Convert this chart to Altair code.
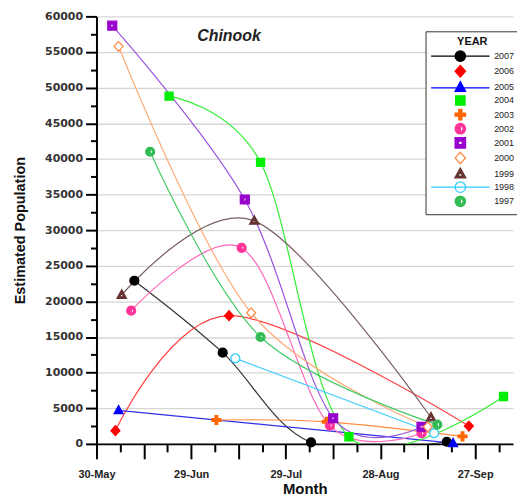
import datetime as dt
import altair as alt
import pandas as pd

# ---------------- data ----------------
years = ["2007", "2006", "2005", "2004", "2003", "2002", "2001", "2000", "1999", "1998", "1997"]

dates_2007 = ["2001-06-11", "2001-07-09", "2001-08-06", "2001-09-18"]
pop_2007 = [22900, 12800, 200, 300]
dates_2006 = ["2001-06-05", "2001-07-11", "2001-09-25"]
pop_2006 = [1850, 18000, 2500]
dates_2005 = ["2001-06-06", "2001-09-20"]
pop_2005 = [4700, 100]
dates_2004 = ["2001-06-22", "2001-07-21", "2001-08-18", "2001-10-06"]
pop_2004 = [48800, 39500, 1000, 6650]
dates_2003 = ["2001-07-07", "2001-08-11", "2001-09-23"]
pop_2003 = [3350, 3100, 1050]
dates_2002 = ["2001-06-10", "2001-07-15", "2001-08-12", "2001-09-10"]
pop_2002 = [18700, 27500, 2550, 1500]
dates_2001 = ["2001-06-04", "2001-07-16", "2001-08-13", "2001-09-10"]
pop_2001 = [58700, 34300, 3600, 2400]
dates_2000 = ["2001-06-06", "2001-07-18", "2001-09-12"]
pop_2000 = [55800, 18400, 2400]
dates_1999 = ["2001-06-07", "2001-07-19", "2001-09-13"]
pop_1999 = [20900, 31300, 3700]
dates_1998 = ["2001-07-13", "2001-09-14"]
pop_1998 = [12000, 1500]
dates_1997 = ["2001-06-16", "2001-07-21", "2001-09-15"]
pop_1997 = [41000, 15000, 2700]

line_colors = ["#333333", "#ff4040", "#3030e8", "#33ee33", "#ff8c40", "#ff66bb",
               "#9955dd", "#ffaa77", "#7a5f5f", "#44ccff", "#44cc66"]
fill_colors = ["#000000", "#ff0000", "#0000ff", "#00ee00", "#ff6600", "#ff3399",
               "#9900cc", "#ffffff", "#663333", "#ffffff", "#33bb55"]
stroke_colors = ["#000000", "#ff0000", "#0000ff", "#00ee00", "#ff6600", "#ff3399",
                 "#9900cc", "#ff8c4c", "#663333", "#33ccff", "#33bb55"]

title_text = "Chinook"
title_date = "2001-07-11"
title_value = 57200

# ---------------- symbol shapes ----------------
CIRCLE = "M1,0A1,1,0,1,1,-1,0A1,1,0,1,1,1,0Z"
DIAMOND = "M0,-1.1L1,0L0,1.1L-1,0Z"
TRIANGLE = "M0,-1.1L1,0.75L-1,0.75Z"
SQUARE = "M-0.9,-0.9L0.9,-0.9L0.9,0.9L-0.9,0.9Z"
CROSS = ("M-1,-0.3L-0.3,-0.3L-0.3,-1L0.3,-1L0.3,-0.3L1,-0.3L1,0.3L0.3,0.3"
         "L0.3,1L-0.3,1L-0.3,0.3L-1,0.3Z")
HALF = "M0,-1A1,1,0,0,0,0,1ZM0,-1A1,1,0,0,1,0,1L0,0.55A0.55,0.55,0,0,0,0,-0.55Z"
HOLLOW_SQ = "M-1,-1L1,-1L1,1L-1,1ZM-0.35,-0.35L-0.35,0.35L0.35,0.35L0.35,-0.35Z"
HOLLOW_TRI = "M0,-1.15L1.05,0.75L-1.05,0.75ZM0,-0.4L-0.5,0.42L0.5,0.42Z"
LINE = "M-5.6,0L5.6,0"

point_shapes = [CIRCLE, DIAMOND, TRIANGLE, SQUARE, CROSS, HALF, HOLLOW_SQ,
                DIAMOND, HOLLOW_TRI, CIRCLE, HALF]
legend_shapes = [LINE + CIRCLE, DIAMOND, "M-5.6,0.1L5.6,0.1" + TRIANGLE, SQUARE, CROSS,
                 HALF, HOLLOW_SQ, DIAMOND, HOLLOW_TRI, LINE + CIRCLE, HALF]

series = {
    "2007": (dates_2007, pop_2007), "2006": (dates_2006, pop_2006),
    "2005": (dates_2005, pop_2005), "2004": (dates_2004, pop_2004),
    "2003": (dates_2003, pop_2003), "2002": (dates_2002, pop_2002),
    "2001": (dates_2001, pop_2001), "2000": (dates_2000, pop_2000),
    "1999": (dates_1999, pop_1999), "1998": (dates_1998, pop_1998),
    "1997": (dates_1997, pop_1997),
}
rows = [{"year": y, "date": d, "pop": p}
        for y, (ds, ps) in series.items() for d, p in zip(ds, ps)]
df = pd.DataFrame(rows)

# ---------------- axis helpers ----------------
start = dt.datetime(2001, 5, 30, tzinfo=dt.timezone.utc)


def ms(days):
    return int((start + dt.timedelta(days=days)).timestamp() * 1000)


x0 = ms(0)
x_end = ms(132)
x_major = [ms(15 * i) for i in range(9)]
x_minor = [ms(7.5 + 15 * i) for i in range(9)]
y_major = list(range(0, 60001, 5000))
y_minor = list(range(2500, 60000, 5000))

xscale = alt.Scale(type="utc", domain=[x0, x_end])
yscale = alt.Scale(domain=[0, 60000], nice=False)

label_expr = ("(round((datum.value - %d) / 86400000) %% 30 == 0) ? "
              "utcFormat(datum.value, '%%d-%%b') : ''" % x0)

x_axis_main = alt.Axis(orient="bottom", values=x_major, labelExpr=label_expr,
                       title="Month", titleFontSize=15, titleFontWeight="bold",
                       titlePadding=2, titleColor="#111",
                       labelFontSize=11, labelFontWeight="bold", labelColor="#222",
                       labelFlush=False, labelOverlap=False, labelPadding=10,
                       tickSize=15, tickWidth=2, tickColor="#000",
                       domainColor="#000", domainWidth=2, grid=False)
x_axis_minor = alt.Axis(orient="bottom", values=x_minor, labels=False, title=None,
                        tickSize=8, tickWidth=2, tickColor="#000", domain=False, grid=False)
y_axis_main = alt.Axis(orient="left", values=y_major, format="d",
                       title="Estimated Population", titleFontSize=14.5,
                       titleFontWeight="bold", titleColor="#111", titlePadding=17,
                       labelFont="DejaVu Sans", labelFontSize=11, labelFontWeight="bold",
                       labelColor="#333", labelPadding=3, tickSize=11, tickWidth=2,
                       tickColor="#000", domainColor="#000", domainWidth=2,
                       grid=True, gridColor="#d6d6d6", gridWidth=1.3)
y_axis_minor = alt.Axis(orient="left", values=y_minor, labels=False, title=None,
                        tickSize=6, tickWidth=2, tickColor="#000", domain=False, grid=False)

base = alt.Chart(df)

lines = base.mark_line(interpolate="cardinal", strokeWidth=1.2, clip=True).encode(
    x=alt.X("date:T", scale=xscale, axis=x_axis_main),
    y=alt.Y("pop:Q", scale=yscale, axis=y_axis_main),
    stroke=alt.Stroke("year:N", scale=alt.Scale(domain=years, range=line_colors), legend=None),
    detail="year:N",
)

points = base.mark_point(size=80, opacity=1, strokeWidth=1.3, filled=True).encode(
    x=alt.X("date:T", scale=xscale, axis=x_axis_minor),
    y=alt.Y("pop:Q", scale=yscale, axis=y_axis_minor),
    shape=alt.Shape("year:N", scale=alt.Scale(domain=years, range=point_shapes), legend=None),
    fill=alt.Fill("year:N", scale=alt.Scale(domain=years, range=fill_colors), legend=None),
    stroke=alt.Stroke("year:N", scale=alt.Scale(domain=years, range=stroke_colors), legend=None),
)

leg = alt.Legend(title="YEAR", orient="none", legendX=331, legendY=15, padding=5,
                 strokeColor="#333", fillColor="white", cornerRadius=0,
                 titleFontSize=11, titleFontWeight="bold", titleColor="#111",
                 titleAnchor="middle", titlePadding=3,
                 labelFontSize=9, labelColor="#222", labelOffset=28,
                 symbolSize=110, symbolStrokeWidth=1.3, symbolOffset=24, rowPadding=-1.8)

legend_layer = base.transform_filter("false").mark_point(size=110, opacity=1, filled=True).encode(
    shape=alt.Shape("year:N", scale=alt.Scale(domain=years, range=legend_shapes), legend=leg),
    fill=alt.Fill("year:N", scale=alt.Scale(domain=years, range=fill_colors), legend=leg),
    stroke=alt.Stroke("year:N", scale=alt.Scale(domain=years, range=stroke_colors), legend=leg),
)

title_layer = alt.Chart(pd.DataFrame({"t": [title_text], "d": [title_date], "v": [title_value]})).mark_text(
    fontSize=16, fontWeight="bold", fontStyle="italic", color="#222"
).encode(
    x=alt.X("d:T", scale=xscale, axis=None),
    y=alt.Y("v:Q", scale=yscale, axis=None),
    text="t:N",
)

chart = alt.layer(lines, points, legend_layer, title_layer).resolve_scale(
    shape="independent", fill="independent", stroke="independent"
).resolve_axis(x="independent", y="independent").properties(
    width=419, height=430,
    padding={"left": 89, "top": 7, "right": 4, "bottom": 53},
    autosize=alt.AutoSizeParams(type="none"),
).configure(font="Liberation Sans").configure_view(stroke=None)

chart.save("out.html", embed_options={"renderer": "svg", "actions": False})
